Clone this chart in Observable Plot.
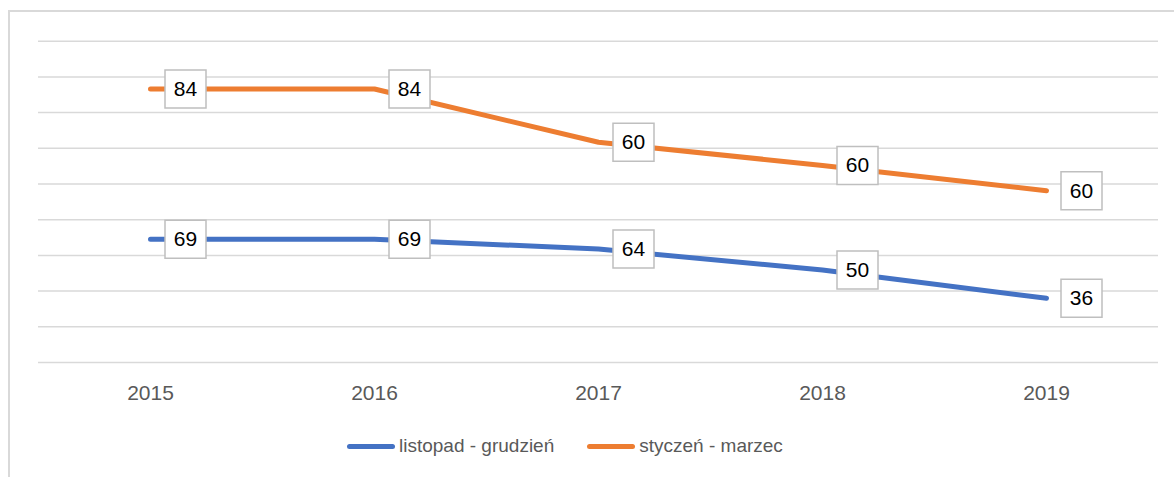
<!DOCTYPE html>
<html>
<head>
<meta charset="utf-8">
<script src="https://cdn.jsdelivr.net/npm/d3@7"></script>
<script src="https://cdn.jsdelivr.net/npm/@observablehq/plot@0.6"></script>
<style>
  html, body { margin: 0; padding: 0; background: #fff; overflow: hidden; }
  #wrap { position: relative; width: 1174px; height: 477px; }
  #border { position: absolute; left: 8px; top: 10px; width: 1200px; height: 500px;
            border-left: 2px solid #d9d9d9; border-top: 2px solid #d9d9d9; z-index: 0; }
  #chart { position: relative; z-index: 1; }
  #chart svg { background: transparent !important; display: block; }
  #legend { position: absolute; top: 420px; left: 347px; height: 52px; display: flex; align-items: center;
            font-family: "Liberation Sans", Arial, sans-serif; font-size: 19px; color: #595959; z-index: 1; }
  .item { display: flex; align-items: center; }
  .sw { width: 48px; height: 5px; border-radius: 3px; margin-right: 4px; }
</style>
</head>
<body>
<div id="wrap">
  <div id="border"></div>
  <div id="chart"></div>
  <div id="legend"></div>
</div>
<script>
const years = ["2015", "2016", "2017", "2018", "2019"];
const seriesNames = ["listopad - grudzień", "styczeń - marzec"];
const seriesColors = ["#4472c4", "#ed7d31"];
const blueValues = [34.5, 34.5, 31.8, 25.9, 18.0];
const orangeValues = [76.6, 76.6, 61.7, 55.2, 48.1];
const blueLabels = ["69", "69", "64", "50", "36"];
const orangeLabels = ["84", "84", "60", "60", "60"];
const gridTicks = [0, 10, 20, 30, 40, 50, 60, 70, 80, 90];

const rows = [];
years.forEach((yr, i) => rows.push({year: yr, value: blueValues[i], label: blueLabels[i], series: seriesNames[0]}));
years.forEach((yr, i) => rows.push({year: yr, value: orangeValues[i], label: orangeLabels[i], series: seriesNames[1]}));

const boxSymbol = { draw(ctx) { ctx.rect(-20.5, -19, 41, 38); } };

const chart = Plot.plot({
  width: 1174,
  height: 420,
  marginLeft: 38,
  marginRight: 16,
  marginTop: 40.7,
  marginBottom: 58,
  style: { fontFamily: "'Liberation Sans', Arial, sans-serif", background: "transparent" },
  x: { type: "point", domain: years, padding: 0.5, label: null },
  y: { domain: [0, 90], axis: null },
  color: { domain: seriesNames, range: seriesColors },
  marks: [
    Plot.ruleY(gridTicks, { stroke: "#d9d9d9", strokeWidth: 1.5 }),
    Plot.axisX({ tickSize: 0, tickPadding: 23, fontSize: 21, color: "#595959", label: null }),
    Plot.line(rows, { x: "year", y: "value", z: "series", stroke: "series", strokeWidth: 5,
                      curve: "linear", strokeLinecap: "round", strokeLinejoin: "round" }),
    Plot.dot(rows, { x: "year", y: "value", symbol: boxSymbol, dx: 35, fill: "white",
                     stroke: "#bfbfbf", strokeWidth: 1.5 }),
    Plot.text(rows, { x: "year", y: "value", text: "label", dx: 35, fontSize: 21, fill: "#000" })
  ]
});
document.getElementById("chart").appendChild(chart);

const legend = document.getElementById("legend");
seriesNames.forEach((name, i) => {
  const item = document.createElement("div");
  item.className = "item";
  if (i > 0) item.style.marginLeft = "33px";
  const sw = document.createElement("div");
  sw.className = "sw";
  sw.style.background = seriesColors[i];
  const t = document.createElement("span");
  t.textContent = name;
  item.appendChild(sw);
  item.appendChild(t);
  legend.appendChild(item);
});
</script>
</body>
</html>
